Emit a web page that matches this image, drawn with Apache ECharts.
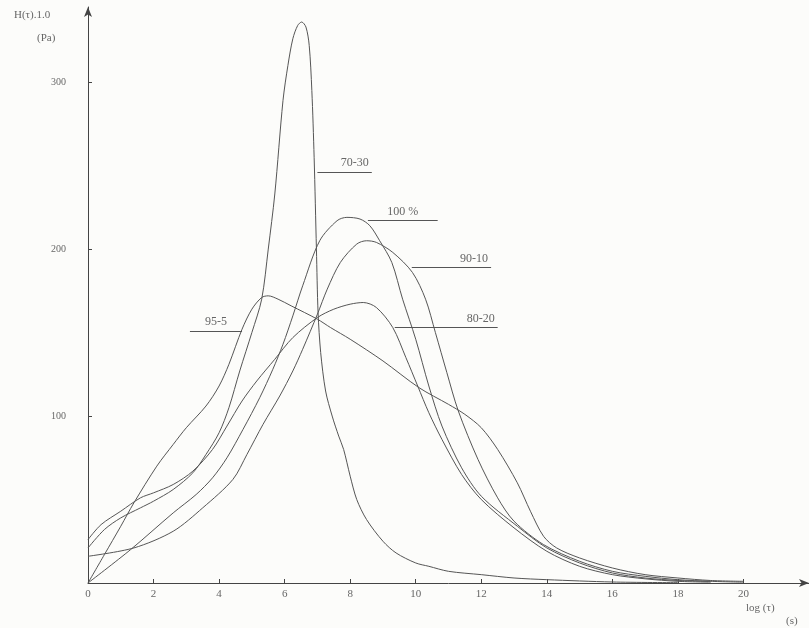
<!DOCTYPE html>
<html>
<head>
<meta charset="utf-8">
<script src="https://cdn.jsdelivr.net/npm/echarts@6/dist/echarts.min.js"></script>
<style>
  html, body { margin: 0; padding: 0; background: #fcfcfa; }
  #main { width: 809px; height: 628px; }
</style>
</head>
<body>
<div id="main"></div>
<script>
// tick labels
var xTicks = [0, 2, 4, 6, 8, 10, 12, 14, 16, 18, 20];
var yTicks = [100, 200, 300];

// curves, [log(tau), H]
var s7030 = [[0,21],[0.5,32],[1,39],[1.6,45],[2,49],[2.6,56],[3.2,66],[3.6,77],[4.0,90],[4.3,105],[4.63,127],[5.0,150],[5.3,170],[5.5,200],[5.7,233],[5.95,289],[6.1,310],[6.25,326],[6.4,334],[6.52,336],[6.65,333],[6.75,322],[6.83,295],[6.9,255],[6.97,200],[7.02,162],[7.1,138],[7.25,115],[7.45,100],[7.65,88],[7.8,80],[8.0,64],[8.2,50],[8.5,38],[9,25],[9.4,18],[10,12],[10.4,10],[11,7],[12,5],[13,3],[14,2],[16,0.6],[18,0.2]];
var s1005 = [[0,0],[1.3,20],[2.6,42],[3.3,53],[3.8,63],[4.24,75],[4.73,92],[5.24,111],[5.64,128],[5.95,143],[6.25,160],[6.55,178],[7.07,205],[7.6,217],[7.9,219],[8.3,218],[8.6,214],[8.9,205],[9.27,192],[9.6,170],[10.0,146],[10.4,118],[10.8,94],[11.4,69],[12.0,52],[13.1,34],[14,21],[15,12],[16,6],[17,3],[18,1.5],[19,1]];
var s9010 = [[0,16],[1.4,21],[2.6,31],[3.5,45],[4.42,62],[4.85,77],[5.34,95],[5.85,112],[6.25,127],[6.55,140],[7.0,161],[7.3,176],[7.7,192],[8.2,203],[8.5,205],[8.8,204],[9.3,198],[9.9,186],[10.3,170],[10.6,150],[10.95,126],[11.3,103],[11.9,74],[12.5,51],[13.0,37],[13.9,23],[15,13],[16,7],[17,4],[18,2],[19,1],[20,0.5]];
var s8020 = [[0,26],[0.4,35],[1.0,43],[1.6,51],[2.0,54],[2.6,59],[3.2,67],[3.8,80],[4.24,94],[4.7,109],[5.15,121],[5.7,134],[6.25,147],[7.0,159],[7.5,164],[8.0,167],[8.4,168],[8.8,165],[9.3,153],[9.7,135],[10.06,118],[10.4,102],[10.8,86],[11.4,65],[12,50],[13,33],[14,19],[15,10],[16,5],[17,2.5],[18,1],[19,0.5]];
var s955 = [[0,0],[0.5,17],[1,34],[1.4,48],[2.1,70],[2.6,83],[3.0,93],[3.6,106],[4.0,118],[4.3,131],[4.7,152],[5.0,164],[5.3,171],[5.5,172],[5.8,170],[6.2,166],[7.0,158],[7.4,153],[8,146],[9,133],[10.1,117],[11,107],[11.5,101],[12,93],[12.5,80],[13.1,60],[13.5,43],[13.9,28],[14.3,21],[15,15],[16,9],[17,5],[18,3],[19,1.5],[20,1]];

var names = ['70-30', '100 %', '90-10', '80-20', '95-5'];
var curves = [s7030, s1005, s9010, s8020, s955];
// label leader lines: [x0, x1, y] in data units
var leaders = [[7.0, 8.66, 246], [8.54, 10.67, 217], [9.88, 12.3, 189], [9.36, 12.5, 153], [3.11, 4.7, 151]];
var leaderPos = ['insideEndTop', 'insideMiddleTop', 'insideEndTop', 'insideEndTop', 'insideMiddleTop'];

var ink = '#555';
var txt = '#666';
var font = 'Liberation Serif';

var chart = echarts.init(document.getElementById('main'));

var series = curves.map(function (d, i) {
  var l = leaders[i];
  return {
    name: names[i],
    type: 'line',
    data: d,
    smooth: 0.3,
    symbol: 'none',
    lineStyle: { color: ink, width: 1 },
    markLine: {
      silent: true,
      symbol: 'none',
      lineStyle: { color: ink, width: 1, type: 'solid' },
      label: {
        show: true,
        position: leaderPos[i],
        formatter: names[i],
        color: txt,
        fontFamily: font,
        fontSize: 12,
        distance: 3
      },
      data: [[{ coord: [l[0], l[2]] }, { coord: [l[1], l[2]] }]]
    }
  };
});

chart.setOption({
  backgroundColor: '#fcfcfa',
  animation: false,
  grid: { left: 88, right: 0, top: 7, bottom: 45 },
  xAxis: {
    type: 'value',
    min: 0,
    max: 22,
    interval: 2,
    axisLine: { show: true, lineStyle: { color: '#444', width: 1 }, symbol: ['none', 'arrow'], symbolSize: [6, 10] },
    axisTick: { show: true, inside: true, length: 4, lineStyle: { color: '#444' }, customValues: xTicks.slice(1) },
    axisLabel: { color: txt, fontFamily: font, fontSize: 11, margin: 6, customValues: xTicks },
    splitLine: { show: false }
  },
  yAxis: {
    type: 'value',
    min: 0,
    max: 345,
    interval: 100,
    axisLine: { show: true, lineStyle: { color: '#444', width: 1 }, symbol: ['none', 'arrow'], symbolSize: [6, 10] },
    axisTick: { show: true, inside: true, length: 4, lineStyle: { color: '#444' }, customValues: yTicks },
    axisLabel: { color: txt, fontFamily: font, fontSize: 10, margin: 22, customValues: yTicks },
    splitLine: { show: false }
  },
  graphic: [
    { type: 'text', left: 14, top: 10, style: { text: 'H(τ).1.0', fill: txt, font: '11px "Liberation Serif"' } },
    { type: 'text', left: 37, top: 33, style: { text: '(Pa)', fill: txt, font: '11px "Liberation Serif"' } },
    { type: 'text', left: 746, top: 603, style: { text: 'log (τ)', fill: txt, font: '11px "Liberation Serif"' } },
    { type: 'text', left: 786, top: 616, style: { text: '(s)', fill: txt, font: '11px "Liberation Serif"' } }
  ],
  series: series
});
</script>
</body>
</html>
